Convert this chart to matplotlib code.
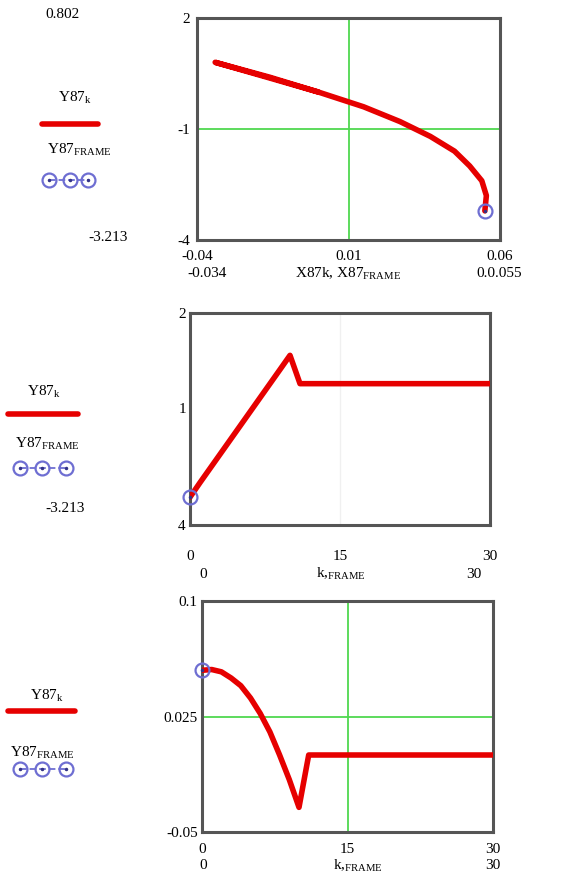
import matplotlib.pyplot as plt
from matplotlib.lines import Line2D

plt.rcParams['font.family'] = ['Liberation Serif', 'DejaVu Serif']
plt.rcParams['mathtext.fontset'] = 'custom'
plt.rcParams['mathtext.rm'] = 'Liberation Serif'
plt.rcParams['mathtext.it'] = 'Liberation Serif:italic'
plt.rcParams['font.size'] = 11

# data: k = 0..30
k = list(range(31))
X87 = [0.055, 0.0555, 0.054, 0.050, 0.045, 0.037, 0.027, 0.015, 0.000, -0.016, -0.034,
       0.0, 0.0, 0.0, 0.0, 0.0, 0.0, 0.0, 0.0, 0.0, 0.0,
       0.0, 0.0, 0.0, 0.0, 0.0, 0.0, 0.0, 0.0, 0.0, 0.0]
Y87 = [-3.213, -2.80, -2.40, -2.00, -1.60, -1.20, -0.80, -0.40, 0.00, 0.40, 0.802,
       0.0, 0.0, 0.0, 0.0, 0.0, 0.0, 0.0, 0.0, 0.0, 0.0,
       0.0, 0.0, 0.0, 0.0, 0.0, 0.0, 0.0, 0.0, 0.0, 0.0]
FRAME = 0

RED = '#e60000'
BLUE = '#6e6ed2'
GREEN = '#4fd84f'
FRAME_COL = '#555555'

W, H = 579, 876
fig = plt.figure(figsize=(W / 100, H / 100), dpi=100)


def fx(x):
    return x / W


def fy(y):
    return 1 - y / H


def style(ax, xpad, ypad):
    for s in ax.spines.values():
        s.set_color(FRAME_COL)
        s.set_linewidth(2.2)
    ax.tick_params(length=0, labelsize=11)
    ax.tick_params(axis='x', pad=xpad)
    ax.tick_params(axis='y', pad=ypad)


def frame_marker(ax, x, y):
    ax.plot([x], [y], marker='o', ms=10, mfc='none', mec=BLUE, mew=1.6, zorder=4, clip_on=False)
    ax.plot([x], [y], marker='.', ms=3, color='#333388', zorder=5, clip_on=False)


def legend(x_txt1, y_txt1, x_line, y_line, x_txt2, y_txt2, xs_marks, y_marks):
    fig.text(fx(x_txt1), fy(y_txt1), r'Y87$_{\rm k}$', ha='left', va='center', fontsize=11)
    fig.add_artist(Line2D([fx(x_line[0]), fx(x_line[1])], [fy(y_line)] * 2,
                          color=RED, lw=4, solid_capstyle='round'))
    fig.text(fx(x_txt2), fy(y_txt2), r'Y87$_{\rm FRAME}$', ha='left', va='center', fontsize=11)
    fig.add_artist(Line2D([fx(v) for v in xs_marks], [fy(y_marks)] * 3, color=BLUE, lw=1.3,
                          ls='--', marker='o', ms=10, mfc='none', mec=BLUE, mew=1.6))
    fig.add_artist(Line2D([fx(v) for v in xs_marks], [fy(y_marks)] * 3, lw=0,
                          marker='.', ms=3, color='#333388'))


# ---- panel 1: Y87 vs X87
ax1 = fig.add_axes([fx(197), fy(240), 303 / W, 222 / H])
ax1.plot(X87, Y87, color=RED, lw=4, solid_capstyle='round', solid_joinstyle='round', zorder=3)
frame_marker(ax1, X87[FRAME], Y87[FRAME])
ax1.set_xlim(-0.04, 0.06)
ax1.set_ylim(-4, 2)
ax1.set_xticks([-0.04, 0.01, 0.06])
ax1.set_xticklabels(['-0.04', '0.01', '0.06'])
ax1.set_yticks([-4, -1, 2])
ax1.set_yticklabels(['-4', '-1', '2'])
ax1.axvline(0.01, color=GREEN, lw=1.3, zorder=1)
ax1.axhline(-1, color=GREEN, lw=1.3, zorder=1)
style(ax1, 7, 5)
ax1.text(0.033, -0.153, '-0.034', transform=ax1.transAxes, ha='center', va='center')
ax1.text(0.498, -0.153, r'X87k, X87$_{\rm FRAME}$', transform=ax1.transAxes, ha='center', va='center')
ax1.text(0.997, -0.153, '0.0.055', transform=ax1.transAxes, ha='center', va='center')

fig.text(fx(62), fy(15), '0.802', ha='center', va='center')
fig.text(fx(108), fy(237), '-3.213', ha='center', va='center')
legend(58, 98, (42, 98), 124, 47, 150, (49, 70, 88), 180)

# ---- panel 2: Y87 vs k
ax2 = fig.add_axes([fx(190), fy(525), 300 / W, 212 / H])
ax2.plot(k, Y87, color=RED, lw=4, solid_capstyle='round', solid_joinstyle='round', zorder=3)
frame_marker(ax2, k[FRAME], Y87[FRAME])
ax2.set_xlim(0, 30)
ax2.set_ylim(-4, 2)
ax2.set_xticks([0, 15, 30])
ax2.set_xticklabels(['0', '15', '30'])
ax2.set_yticks([-4, -0.7, 2])
ax2.set_yticklabels(['4', '1', '2'])
ax2.axvline(15, color='#f0f0f0', lw=1.0, zorder=1)
style(ax2, 18, 3)
ax2.text(0.043, -0.232, '0', transform=ax2.transAxes, ha='center', va='center')
ax2.text(0.503, -0.232, r'k,$_{\rm FRAME}$', transform=ax2.transAxes, ha='center', va='center')
ax2.text(0.947, -0.232, '30', transform=ax2.transAxes, ha='center', va='center')

fig.text(fx(65), fy(508), '-3.213', ha='center', va='center')
legend(27, 392, (8, 78), 414, 15, 444, (20, 42, 66), 468)

# ---- panel 3: X87 vs k
ax3 = fig.add_axes([fx(202), fy(832), 291 / W, 231 / H])
ax3.plot(k, X87, color=RED, lw=4, solid_capstyle='round', solid_joinstyle='round', zorder=3)
frame_marker(ax3, k[FRAME], X87[FRAME])
ax3.set_xlim(0, 30)
ax3.set_ylim(-0.05, 0.1)
ax3.set_xticks([0, 15, 30])
ax3.set_xticklabels(['0', '15', '30'])
ax3.set_yticks([-0.05, 0.025, 0.1])
ax3.set_yticklabels(['-0.05', '0.025', '0.1'])
ax3.axvline(15, color=GREEN, lw=1.3, zorder=1)
ax3.axhline(0.025, color=GREEN, lw=1.3, zorder=1)
style(ax3, 8, 3)
ax3.text(0.003, -0.147, '0', transform=ax3.transAxes, ha='center', va='center')
ax3.text(0.536, -0.147, r'k,$_{\rm FRAME}$', transform=ax3.transAxes, ha='center', va='center')
ax3.text(1.0, -0.147, '30', transform=ax3.transAxes, ha='center', va='center')

legend(30, 696, (8, 75), 711, 10, 753, (20, 42, 66), 769)

fig.savefig('out.png', dpi=100)
